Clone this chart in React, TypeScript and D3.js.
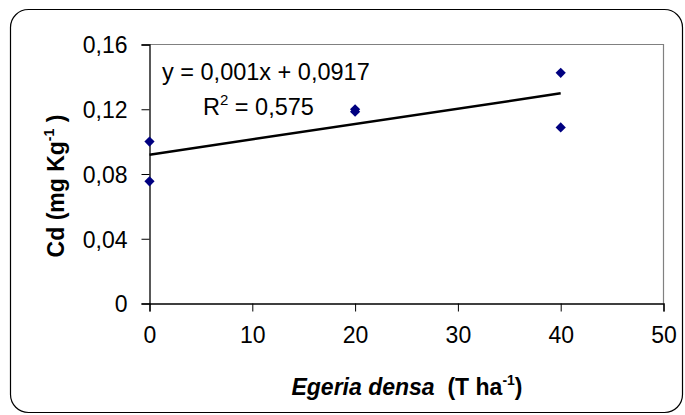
import React, { useRef, useEffect } from "react";
import * as d3 from "d3";

// Egeria densa dose (T ha-1) and Cd content (mg Kg-1)
const doses: number[] = [0, 0, 20, 20, 40, 40];
const cdValues: number[] = [0.1, 0.0755, 0.1185, 0.12, 0.1425, 0.1088];
const xTicks: number[] = [0, 10, 20, 30, 40, 50];
const yTicks: number[] = [0, 0.04, 0.08, 0.12, 0.16];
const equationLabel = "y = 0,001x + 0,0917";
const r2Value = "0,575";

const App: React.FC = () => {
  const svgRef = useRef<SVGSVGElement | null>(null);

  useEffect(() => {
    document.body.style.margin = "0";
    const width = 685, height = 415;
    const margin = { top: 44.5, right: 21.5, bottom: 111.5, left: 149.5 };
    const font = "'Liberation Sans', Arial, sans-serif";

    const svg = d3.select(svgRef.current)
      .attr("width", width)
      .attr("height", height)
      .style("background", "#fff");
    svg.selectAll("*").remove();

    // outer chart frame
    svg.append("rect")
      .attr("x", 10.5).attr("y", 9.5)
      .attr("width", 672).attr("height", 403)
      .attr("rx", 18).attr("ry", 18)
      .attr("fill", "#fff")
      .attr("stroke", "#000")
      .attr("stroke-width", 1.2);

    const x = d3.scaleLinear().domain([0, 50]).range([margin.left, width - margin.right]);
    const y = d3.scaleLinear().domain([0, 0.16]).range([height - margin.bottom, margin.top]);

    // plot area border (top / right)
    svg.append("path")
      .attr("d", `M${x(0)},${y(0.16)}H${x(50)}V${y(0)}`)
      .attr("fill", "none")
      .attr("stroke", "#808080")
      .attr("stroke-width", 1.2);

    const fmt = (d: number) => (d === 0 ? "0" : d.toFixed(2).replace(".", ","));

    // Y axis
    const yAxis = svg.append("g")
      .attr("transform", `translate(${x(0)},0)`)
      .call(d3.axisLeft(y).tickValues(yTicks).tickSize(8).tickPadding(14).tickFormat(d => fmt(+d)));
    yAxis.select(".domain").attr("stroke", "#000").attr("stroke-width", 1.3);
    yAxis.selectAll("text").style("font-family", font).style("font-size", "23px").attr("fill", "#000").attr("dy", "0.36em");

    // X axis
    const xAxis = svg.append("g")
      .attr("transform", `translate(0,${y(0)})`)
      .call(d3.axisBottom(x).tickValues(xTicks).tickSize(8).tickPadding(15).tickFormat(d => String(d)));
    xAxis.select(".domain").attr("stroke", "#000").attr("stroke-width", 1.3);
    xAxis.selectAll("text").style("font-family", font).style("font-size", "23px").attr("fill", "#000");

    // linear trendline from least squares
    const mx = d3.mean(doses) as number;
    const my = d3.mean(cdValues) as number;
    const sxy = d3.sum(doses, (d, i) => (d - mx) * (cdValues[i] - my));
    const sxx = d3.sum(doses, d => (d - mx) ** 2);
    const slope = sxy / sxx;
    const intercept = my - slope * mx;
    const [xMin, xMax] = d3.extent(doses) as [number, number];
    const line = d3.line<number>().x(d => x(d)).y(d => y(intercept + slope * d));
    svg.append("path")
      .datum([xMin, xMax])
      .attr("fill", "none")
      .attr("stroke", "#000")
      .attr("stroke-width", 2.5)
      .attr("d", line);

    // points
    const diamond = d3.symbol().type(d3.symbolSquare).size(52);
    svg.selectAll(".dot")
      .data(doses)
      .enter().append("path")
      .attr("class", "dot")
      .attr("d", diamond)
      .attr("transform", (d, i) => `translate(${x(d)},${y(cdValues[i])}) rotate(45)`)
      .attr("fill", "#000080");

    // equation
    svg.append("text")
      .attr("x", 162).attr("y", 80)
      .style("font-family", font).style("font-size", "23.5px")
      .text(equationLabel);
    const r2 = svg.append("text")
      .attr("x", 203).attr("y", 115)
      .style("font-family", font).style("font-size", "23.5px");
    r2.append("tspan").text("R");
    r2.append("tspan").attr("dy", -10).style("font-size", "15px").text("2");
    r2.append("tspan").attr("dy", 10).text(` = ${r2Value}`);

    // X title
    const xt = svg.append("text")
      .attr("x", 407).attr("y", 395)
      .attr("text-anchor", "middle")
      .style("font-family", font).style("font-size", "23px").style("font-weight", "bold");
    xt.append("tspan").style("font-style", "italic").text("Egeria densa");
    xt.append("tspan").text("\u00a0\u00a0(T ha");
    xt.append("tspan").attr("dy", -10).style("font-size", "14px").text("-1");
    xt.append("tspan").attr("dy", 10).text(")");

    // Y title
    const yt = svg.append("text")
      .attr("transform", `translate(64,186) rotate(-90)`)
      .attr("text-anchor", "middle")
      .style("font-family", font).style("font-size", "23px").style("font-weight", "bold");
    yt.append("tspan").text("Cd (mg Kg");
    yt.append("tspan").attr("dy", -10).style("font-size", "14px").text("-1");
    yt.append("tspan").attr("dy", 10).text("\u00a0)");
  }, []);

  return (
    <div>
      <svg ref={svgRef}></svg>
    </div>
  );
};

export default App;
